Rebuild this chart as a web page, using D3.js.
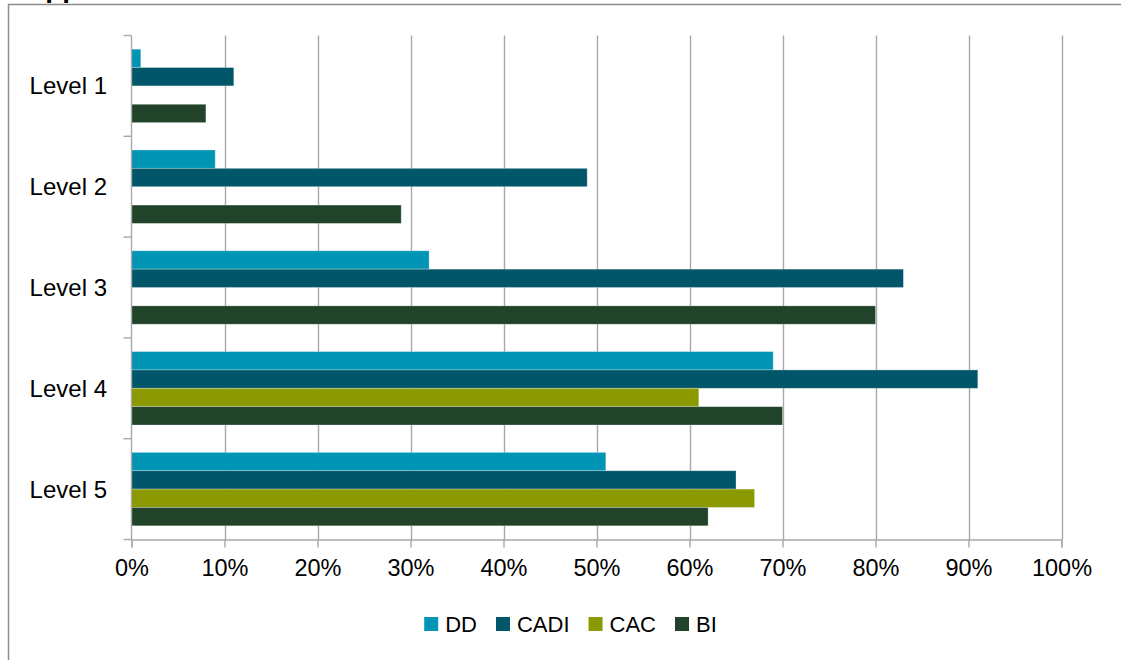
<!DOCTYPE html>
<html>
<head>
<meta charset="utf-8">
<script src="https://cdn.jsdelivr.net/npm/d3@7"></script>
<style>
  html, body { margin: 0; padding: 0; background: #fff; }
  svg { display: block; }
  text { font-family: "Liberation Sans", Arial, sans-serif; fill: #000; }
</style>
</head>
<body>
<svg id="chart" width="1121" height="660"></svg>
<script>
// Category labels (top to bottom) and series
const levels = ["Level 1", "Level 2", "Level 3", "Level 4", "Level 5"];
const seriesNames = ["DD", "CADI", "CAC", "BI"];
const seriesColors = ["#0095B5", "#025669", "#8B9A00", "#21432A"];

// Percent of respondents per level, one array per series (null = no bar)
const ddValues   = [1, 9, 32, 69, 51];
const cadiValues = [11, 49, 83, 91, 65];
const cacValues  = [null, null, null, 61, 67];
const biValues   = [8, 29, 80, 70, 62];

const xTicks = [0, 10, 20, 30, 40, 50, 60, 70, 80, 90, 100];

const seriesValues = [ddValues, cadiValues, cacValues, biValues];
const rows = [];
levels.forEach((lv, i) => {
  seriesNames.forEach((s, j) => {
    const v = seriesValues[j][i];
    if (v != null) rows.push({ level: lv, series: s, value: v, color: seriesColors[j] });
  });
});

const svg = d3.select("#chart");

// Outer frame and the clipped heading above it
svg.append("text")
  .attr("x", 25).attr("y", -3)
  .style("font-size", "28px").style("font-weight", "bold")
  .text("Approach");
svg.append("path")
  .attr("d", "M1125,4.5 H8.5 V665")
  .attr("fill", "none").attr("stroke", "#8c8c8c").attr("stroke-width", 1.5);

const plot = { left: 131.5, right: 1061.5, top: 35.5, bottom: 539.5 };

const x = d3.scaleLinear().domain([0, 100]).range([plot.left, plot.right]);
const y = d3.scaleBand().domain(levels).range([plot.top, plot.bottom]).padding(0);
const yInner = d3.scaleBand().domain(seriesNames).range([0, y.bandwidth()])
  .paddingInner(0).paddingOuter(0.745);

const gridColor = "#a8a8a8";

// Vertical gridlines
svg.append("g").selectAll("line")
  .data(xTicks.filter(t => t > 0))
  .join("line")
  .attr("x1", d => Math.round(x(d)) + 0.5).attr("x2", d => Math.round(x(d)) + 0.5)
  .attr("y1", plot.top).attr("y2", plot.bottom)
  .attr("stroke", gridColor).attr("stroke-width", 1.4);

// Bars
svg.append("g").selectAll("rect")
  .data(rows)
  .join("rect")
  .attr("x", x(0))
  .attr("y", d => y(d.level) + yInner(d.series))
  .attr("width", d => x(d.value) - x(0))
  .attr("height", yInner.bandwidth())
  .attr("fill", d => d.color)
  .attr("stroke", "rgba(255,255,255,0.35)")
  .attr("stroke-width", 0.8);

// Bottom axis
const xAxis = d3.axisBottom(x)
  .tickValues(xTicks)
  .tickFormat(d => d + "%")
  .tickSize(8).tickPadding(12);
const gx = svg.append("g")
  .attr("transform", `translate(0,${plot.bottom})`)
  .call(xAxis);
gx.select(".domain").attr("stroke", gridColor).attr("stroke-width", 1.4);
gx.selectAll(".tick line").attr("stroke", gridColor).attr("stroke-width", 1.4);
gx.selectAll(".tick text")
  .style("font-family", "'Liberation Sans', Arial, sans-serif")
  .style("font-size", "23.5px").attr("fill", "#000");

// Left axis: tick marks sit on the band boundaries
const ga = svg.append("g");
ga.append("line")
  .attr("x1", plot.left).attr("x2", plot.left)
  .attr("y1", plot.top).attr("y2", plot.bottom)
  .attr("stroke", gridColor).attr("stroke-width", 1.4);
const boundaries = levels.map(l => y(l)).concat([plot.bottom]);
ga.selectAll("line.tk")
  .data(boundaries)
  .join("line").attr("class", "tk")
  .attr("x1", plot.left - 8).attr("x2", plot.left)
  .attr("y1", d => d).attr("y2", d => d)
  .attr("stroke", gridColor).attr("stroke-width", 1.4);
ga.selectAll("text")
  .data(levels)
  .join("text")
  .attr("x", 107)
  .attr("y", d => y(d) + y.bandwidth() / 2)
  .attr("dy", "0.35em")
  .attr("text-anchor", "end")
  .style("font-size", "24px")
  .text(d => d);

// Legend
const legend = svg.append("g");
const legendFont = 22, sw = 14, gapText = 7, gapItem = 19;
const items = legend.selectAll("g")
  .data(seriesNames)
  .join("g");
items.append("rect")
  .attr("width", sw).attr("height", sw)
  .attr("y", 617)
  .attr("fill", (d, i) => seriesColors[i]);
items.append("text")
  .attr("x", sw + gapText)
  .attr("y", 632)
  .style("font-size", legendFont + "px")
  .text(d => d);
let offsets = [], cur = 0;
items.each(function () {
  offsets.push(cur);
  const w = d3.select(this).select("text").node().getComputedTextLength();
  cur += sw + gapText + w + gapItem;
});
const total = cur - gapItem;
const start = 570.5 - total / 2;
items.attr("transform", (d, i) => `translate(${start + offsets[i]},0)`);
</script>
</body>
</html>
